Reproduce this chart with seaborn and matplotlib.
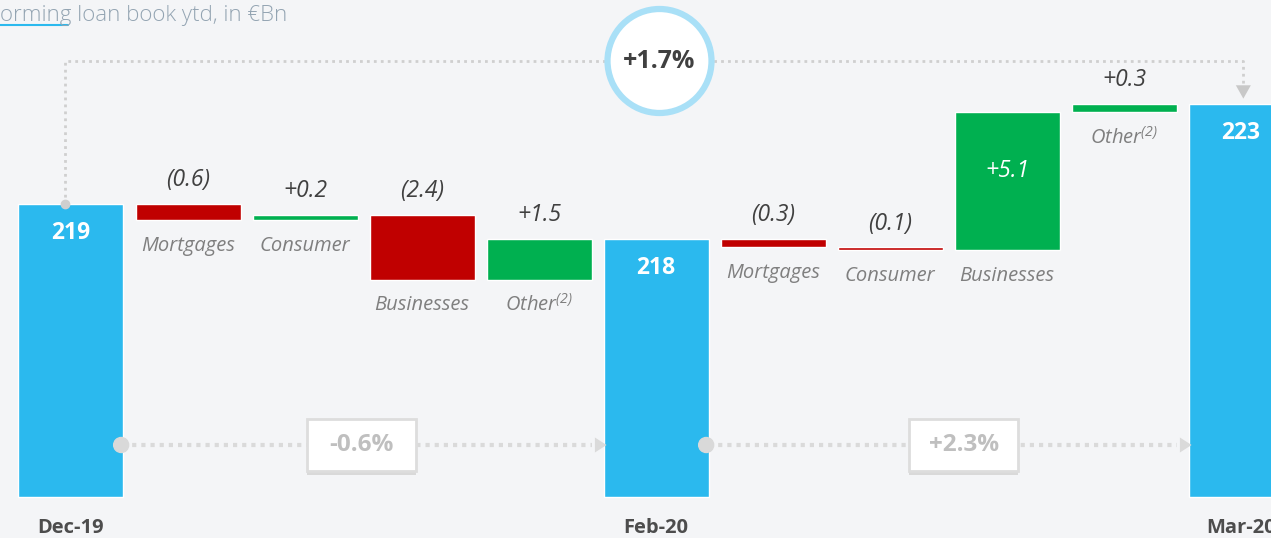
import numpy as np
import matplotlib.pyplot as plt
import seaborn as sns
from matplotlib.patches import Rectangle, Ellipse

# data
period_labels = ["Dec-19", "Feb-20", "Mar-20"]
period_values = [219, 218, 223]
driver_labels = ["Mortgages", "Consumer", "Businesses", "Other$^{(2)}$"]
change_dec_feb = [-0.6, 0.2, -2.4, 1.5]
change_feb_mar = [-0.3, -0.1, 5.1, 0.3]
period_growth = ["-0.6%", "+2.3%"]
total_growth = "+1.7%"

BLUE = "#2BB9EE"
RED = "#C00000"
GREEN = "#00B050"
BG = "#F4F5F7"
DOT = "#CFCFCF"

sns.set_theme(style="white", rc={"axes.facecolor": BG, "figure.facecolor": BG})
plt.rcParams["font.family"] = ["Open Sans", "DejaVu Sans"]
plt.rcParams["mathtext.fontset"] = "custom"
plt.rcParams["mathtext.rm"] = "Open Sans:italic"
plt.rcParams["mathtext.it"] = "Open Sans:italic"

fig = plt.figure(figsize=(12.71, 5.38), dpi=100)
ax = fig.add_axes([0, 0, 1, 1])
for s in ax.spines.values():
    s.set_visible(False)
ax.set_xticks([])
ax.set_yticks([])

# scale: 27 px per €Bn, axis truncated
px = 27.0
start = period_values[0]
ax.set_ylim(start - (538 - 204) / px, start + 204 / px)
ax.set_xlim(-71 / 117, (1271 - 71) / 117)
base = start - (497 - 204) / px
w = 105 / 117

# build waterfall
x = 0
level = start
totals_x = []
totals_lvl = []
for p, (lab, val) in enumerate(zip(period_labels, period_values)):
    ax.bar(x, level - base, bottom=base, width=w, color=BLUE, zorder=2)
    ax.annotate(str(val), (x, level), xytext=(0, -21), textcoords="offset points",
                ha="center", va="center", color="white", fontsize=16.5, fontweight="bold")
    ax.text(x, 0.019, lab, transform=ax.get_xaxis_transform(), ha="center", va="center",
            fontsize=14.5, fontweight="bold", color="#4D4D4D")
    totals_x.append(x)
    totals_lvl.append(level)
    x += 1
    if p == len(period_labels) - 1:
        break
    changes = change_dec_feb if p == 0 else change_feb_mar
    for name, ch in zip(driver_labels, changes):
        new = level + ch
        lo, hi = min(level, new), max(level, new)
        ax.bar(x, hi - lo, bottom=lo, width=w, color=GREEN if ch > 0 else RED, zorder=2)
        txt = f"+{ch:.1f}" if ch > 0 else f"({abs(ch):.1f})"
        if abs(ch) > 3:
            ax.annotate(txt, (x, hi), xytext=(0, -42), textcoords="offset points",
                        ha="center", va="center", color="white", fontsize=16.5, style="italic")
        else:
            ax.annotate(txt, (x, hi), xytext=(0, 17), textcoords="offset points",
                        ha="center", va="center", color="#404040", fontsize=16.5, style="italic")
        ax.annotate(name, (x, lo), xytext=(0, -18.5), textcoords="offset points",
                    ha="center", va="center", color="#7F7F7F", fontsize=14.5, style="italic")
        level = new
        x += 1

# top connector with total growth
y_top = start + (204 - 61) / px
x0, x1 = totals_x[0] - 0.05, totals_x[-1] + 0.02
ax.plot([x0, x0, x1, x1], [totals_lvl[0], y_top, y_top, totals_lvl[-1] + 0.6],
        ls=(0, (1, 1.5)), color=DOT, lw=2, zorder=1)
ax.plot(x0, totals_lvl[0], "o", color=DOT, ms=6, zorder=3)
ax.annotate("", xy=(x1, totals_lvl[-1] + 0.1), xytext=(x1, totals_lvl[-1] + 0.72),
            arrowprops=dict(arrowstyle="-|>,head_length=0.8,head_width=0.45", color="#C8C8C8", lw=0))
cx = (totals_x[0] + totals_x[-1]) / 2 + 0.03
ax.add_patch(Ellipse((cx, y_top), 2 * 52 / 117, 2 * 52 / px, facecolor="white",
                     edgecolor="#A9E0F7", lw=4.5, zorder=4))
ax.text(cx, y_top, total_growth, ha="center", va="center", fontsize=18,
        fontweight="bold", color="#404040", zorder=5)

# bottom connectors with period growth
y_low = start - (445 - 204) / px
box_x = [2.48, 7.63]
for i in range(2):
    a = totals_x[i] + w / 2
    b = totals_x[i + 1] - w / 2
    ax.plot([a, b - 0.1], [y_low, y_low], ls=(0, (1, 1.2)), color="#DADADA", lw=3, zorder=3)
    ax.add_patch(Ellipse((a - 0.02, y_low), 15 / 117, 15 / px, color="#D9D9D9", zorder=4))
    ax.annotate("", xy=(b + 0.05, y_low), xytext=(b - 0.12, y_low),
                arrowprops=dict(arrowstyle="-|>,head_length=0.7,head_width=0.45", color="#DADADA", lw=0),
                zorder=4)
    bw, bh = 109 / 117, 52 / px
    ax.add_patch(Rectangle((box_x[i] - bw / 2, y_low - bh / 2 - 4 / px), bw, bh,
                           facecolor="#D9D9D9", edgecolor="none", zorder=4))
    ax.add_patch(Rectangle((box_x[i] - bw / 2, y_low - bh / 2), bw, bh,
                           facecolor="white", edgecolor="#DDDDDD", lw=2, zorder=5))
    ax.text(box_x[i], y_low, period_growth[i], ha="center", va="center", fontsize=17.5,
            fontweight="bold", color="#BFBFBF", zorder=6)

# title (cut off at left edge, as in the source)
fig.text(0.0, 1 - 15 / 538, "orming loan book ytd, in €Bn", ha="left", va="center",
         fontsize=16, fontweight="light", color="#93A4B2")
fig.add_artist(plt.Line2D([0, 68 / 1271], [1 - 25 / 538] * 2, color=BLUE, lw=1.5))

fig.savefig("out.png", dpi=100, facecolor=BG)
